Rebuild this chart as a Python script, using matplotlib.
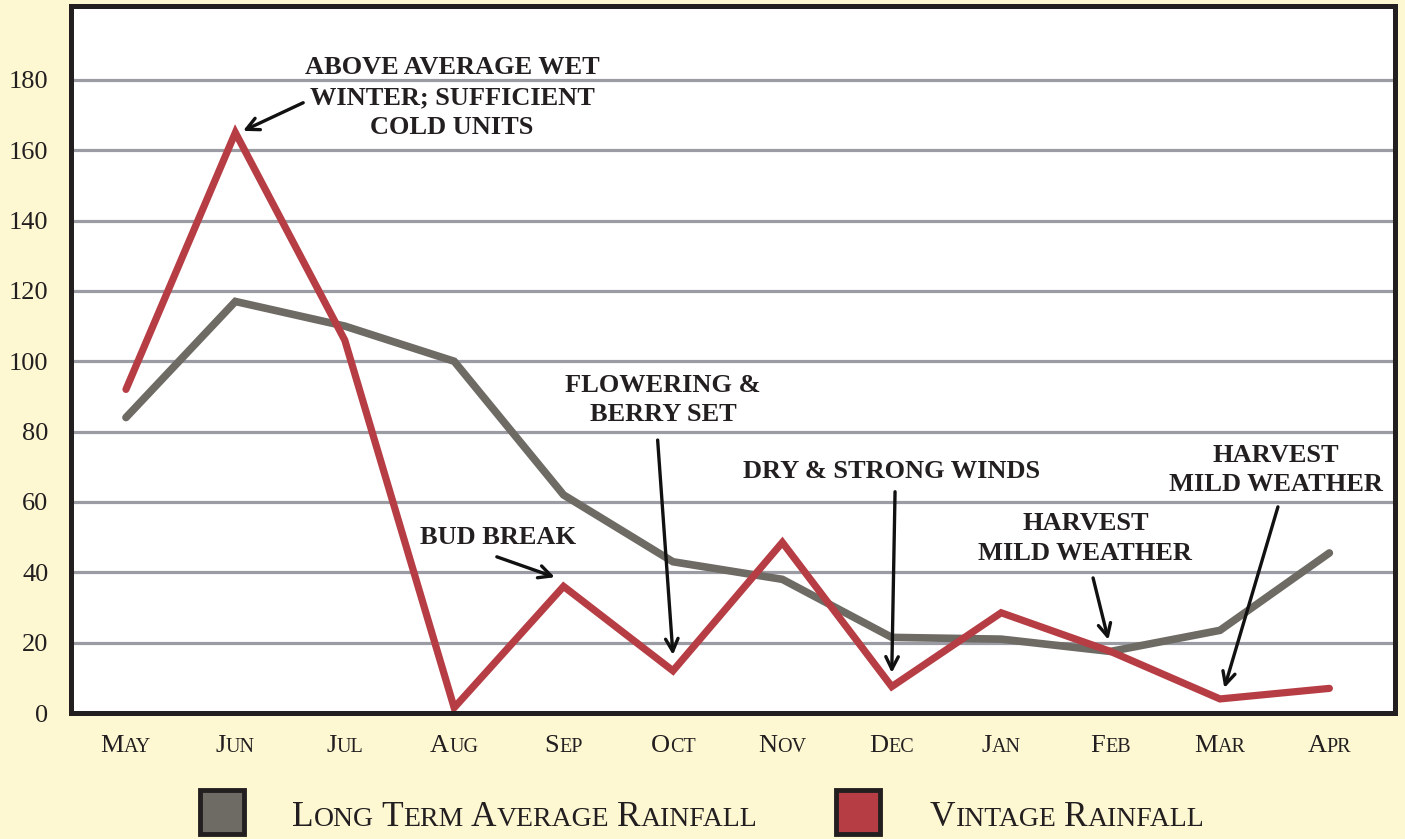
import matplotlib
matplotlib.use("Agg")
import matplotlib.pyplot as plt
from matplotlib.patches import Rectangle
from matplotlib.transforms import IdentityTransform

# ---- data ----
MONTHS = ["May", "Jun", "Jul", "Aug", "Sep", "Oct",
          "Nov", "Dec", "Jan", "Feb", "Mar", "Apr"]
LONG_TERM = [84, 117, 110, 100, 62, 43, 38, 21.5, 21, 17.5, 23.5, 45.5]
VINTAGE = [92, 165, 106, 1.5, 36, 12, 48.5, 7.5, 28.5, 17.5, 4, 7]
Y_TICKS = [0, 20, 40, 60, 80, 100, 120, 140, 160, 180]

SERIES_NAMES = ["Long Term Average Rainfall", "Vintage Rainfall"]

# (label, label centre, arrow tail, arrow tip) in data coords
NOTES = [
    ("ABOVE AVERAGE WET\nWINTER; SUFFICIENT\nCOLD UNITS", (2.98, 175.0), (1.62, 173.5), (1.07, 165.5)),
    ("BUD BREAK", (3.4, 49.8), (3.39, 44.4), (3.92, 38.6)),
    ("FLOWERING &\nBERRY SET", (4.91, 89.0), (4.86, 77.6), (5.0, 16.5)),
    ("DRY & STRONG WINDS", (7.0, 68.8), (7.03, 62.9), (7.0, 11.4)),
    ("HARVEST\nMILD WEATHER", (8.77, 49.5), (8.84, 38.4), (8.98, 20.8)),
    ("HARVEST\nMILD WEATHER", (10.51, 69.1), (10.53, 58.6), (10.04, 7.1)),
]

BG = "#fdf8d2"
GRAY = "#6e6a64"
RED = "#b73d45"
GRID = "#9b9ba3"
INK = "#231f20"
SERIF = ["Liberation Serif", "DejaVu Serif"]

W, H, DPI = 1405, 839, 100
fig = plt.figure(figsize=(W / DPI, H / DPI), dpi=DPI, facecolor=BG)
ax = fig.add_axes([70.5 / W, 126 / H, 1324.5 / W, 707 / H])
ax.set_facecolor("white")

x = list(range(len(MONTHS)))
ax.plot(x, LONG_TERM, color=GRAY, lw=5.5, solid_capstyle="round",
        solid_joinstyle="miter", zorder=3)
ax.plot(x, VINTAGE, color=RED, lw=5.2, solid_capstyle="round",
        solid_joinstyle="miter", zorder=4)

ax.set_xlim(-0.507, 11.6)
ax.set_ylim(0, 201)
ax.set_yticks(Y_TICKS)
ax.set_yticklabels([str(t) for t in Y_TICKS], fontsize=19, family=SERIF, color=INK)
ax.set_xticks(x)
ax.set_xticklabels([""] * len(x))
ax.tick_params(axis="both", length=0)
ax.tick_params(axis="y", pad=16)
for t in Y_TICKS[1:]:
    ax.axhline(t, color=GRID, lw=2.3, zorder=1)
for sp in ax.spines.values():
    sp.set_linewidth(3.6)
    sp.set_color(INK)
    sp.set_zorder(6)

# annotations
for label, txt_xy, tail, tip in NOTES:
    ax.text(txt_xy[0], txt_xy[1], label, ha="center", va="center",
            multialignment="center", fontsize=19, fontweight="bold",
            family=SERIF, color=INK, linespacing=1.38, zorder=7)
    ax.annotate("", xy=tip, xytext=tail,
                arrowprops=dict(arrowstyle="->,head_length=0.9,head_width=0.45",
                                lw=2.4, color="#111111", shrinkA=0, shrinkB=0),
                zorder=7)

fig.canvas.draw()
renderer = fig.canvas.get_renderer()


def small_caps(px, py, s, big, small, ha="center"):
    """Draw s in faux small caps with its baseline at display pixel (px, py)."""
    pieces = []
    for k, word in enumerate(s.split(" ")):
        if k:
            pieces.append((" ", small))
        pieces.append((word[0].upper(), big))
        if len(word) > 1:
            pieces.append((word[1:].upper(), small))
    widths = []
    for txt, size in pieces:
        if txt == " ":
            widths.append(0.28 * size * DPI / 72)
            continue
        t = fig.text(0, 0, txt, fontsize=size, family=SERIF, transform=IdentityTransform())
        widths.append(t.get_window_extent(renderer).width)
        t.remove()
    total = sum(widths)
    cur = px - total / 2 if ha == "center" else px
    for (txt, size), w in zip(pieces, widths):
        if txt != " ":
            fig.text(cur, py, txt, fontsize=size, family=SERIF, color=INK,
                     va="baseline", ha="left", transform=IdentityTransform())
        cur += w


# month tick labels in small caps
for i, m in enumerate(MONTHS):
    px = ax.transData.transform((i, 0))[0]
    small_caps(px, H - 752, m, 19, 14.5)

# legend
for (name, col, sq_x, tx_x) in [(SERIES_NAMES[0], GRAY, 200, 292),
                                (SERIES_NAMES[1], RED, 836, 930)]:
    fig.patches.append(Rectangle((sq_x / W, 5 / H), 44 / W, 44 / H,
                                 transform=fig.transFigure, facecolor=col,
                                 edgecolor=INK, lw=3.5))
    small_caps(tx_x, H - 826, name, 25.5, 20, ha="left")

fig.savefig("out.png", dpi=DPI, facecolor=BG)
